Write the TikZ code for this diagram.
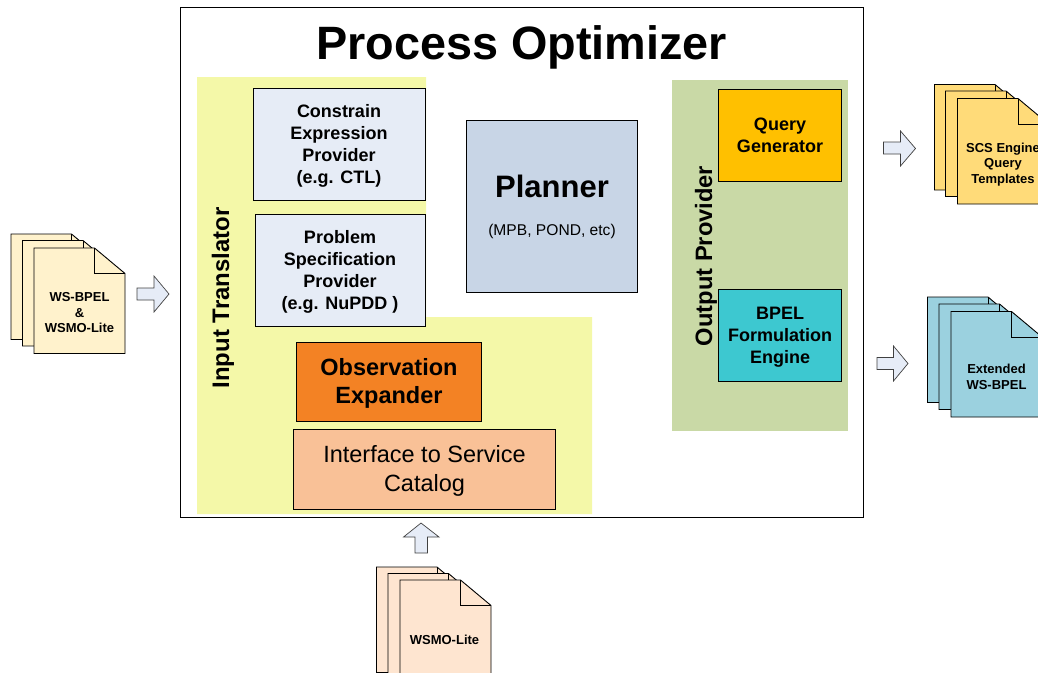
\documentclass[tikz,border=0pt]{standalone}
\usepackage{fontspec}
\setmainfont{Liberation Sans}
\newcommand{\fsz}[1]{\fontsize{#1}{#1}\selectfont}
\tikzset{
  frame/.style={draw=black,line width=0.7pt,fill=white},
  box/.style={draw=black,line width=0.7pt,align=center,font=\bfseries,anchor=center,inner sep=0pt},
  doc/.style={draw=black,line width=0.9pt},
  blockarrow/.style={draw=black!75,line width=0.7pt,fill=arrowfill,line join=miter},
  lbl/.style={align=center,inner sep=0pt},
}
\definecolor{arrowfill}{HTML}{E6ECF7}
\definecolor{yellowbg}{HTML}{F4F8A8}
\definecolor{greenbg}{HTML}{C9D9A6}
\definecolor{lightblue}{HTML}{E6ECF6}
\definecolor{planner}{HTML}{C8D5E6}
\definecolor{qgen}{HTML}{FFC000}
\definecolor{bpel}{HTML}{3DC8D0}
\definecolor{obs}{HTML}{F38224}
\definecolor{iface}{HTML}{F9C197}
\definecolor{docA}{HTML}{FFF2CC}
\definecolor{docB}{HTML}{FFDB79}
\definecolor{docC}{HTML}{9BD1DF}
\definecolor{docD}{HTML}{FEE5D0}
% \sheet{x}{y}{colour}
\newcommand{\sheet}[3]{%
  \draw[doc,fill=#3] (#1,#2) -- ++(60.5,0) -- ++(30.5,25.5) -- ++(0,80) -- ++(-91,0) -- cycle;
  \draw[doc] (#1+60.5,#2) -- ++(0,25.5) -- ++(30.5,0);
}
\newcommand{\stack}[7]{%
  \sheet{#1}{#2}{#7}\sheet{#3}{#4}{#7}\sheet{#5}{#6}{#7}%
}
\begin{document}
\begin{tikzpicture}[x=1pt,y=-1pt]
\useasboundingbox (0,0) rectangle (1038,672);
\clip (0,0) rectangle (1038,672);
\draw[frame] (180,7) rectangle (863,517);
\node[lbl,font=\fsz{46.8}\bfseries] (title) at (521.5,47) {Process Optimizer};
% yellow background
\fill[yellowbg] (197,77) -- (426,77) -- (426,317) -- (592,317) -- (592,514) -- (197,514) -- cycle;
\fill[greenbg] (672,80) rectangle (848,431);
\node[lbl,font=\fsz{23.9}\bfseries,rotate=90] (inputtr) at (223,298) {Input Translator};
\node[lbl,font=\fsz{23.7}\bfseries,rotate=90] (outputpr) at (706,256) {Output Provider};
\node[box,fill=lightblue,minimum width=172pt,minimum height=112pt] (constrain) at (339,144) {};
\node[lbl,font=\fsz{18}\bfseries] (constraintxt) at (339,146) {Constrain\\[4pt]Expression\\[4pt]Provider\\[4pt](e.g. CTL)};
\node[box,fill=lightblue,minimum width=170pt,minimum height=112pt] (problem) at (340,270.5) {};
\node[lbl,font=\fsz{18}\bfseries] (problemtxt) at (340,272) {Problem\\[4pt]Specification\\[4pt]Provider\\[4pt](e.g. NuPDD )};
\node[box,fill=planner,minimum width=171pt,minimum height=172pt] (plannerbox) at (552,206.5) {};
\node[lbl,font=\fsz{31}\bfseries] (plannertxt) at (552,186) {Planner};
\node[lbl,font=\fsz{15.6}] (plannersub) at (552,231) {(MPB, POND, etc)};
\node[box,fill=qgen,minimum width=123pt,minimum height=92pt,font=\fsz{18}\bfseries] (query) at (780,135.5) {Query\\[4pt]Generator};
\node[box,fill=bpel,minimum width=123pt,minimum height=92pt] (bpelbox) at (780,335.5) {};
\node[lbl,font=\fsz{18}\bfseries] (bpeltxt) at (780,337.5) {BPEL\\[4pt]Formulation\\[4pt]Engine};
\node[box,fill=obs,minimum width=185pt,minimum height=79pt] (observ) at (389,381.5) {};
\node[lbl,font=\fsz{23.5}\bfseries] (observtxt) at (389,383.5) {Observation\\[4.5pt]Expander};
\node[box,fill=iface,minimum width=262pt,minimum height=80pt] (interface) at (424.5,469.5) {};
\node[lbl,font=\fsz{23.5}] (interfacetxt) at (424.5,471) {Interface to Service\\[5.5pt]Catalog};
% block arrows
\draw[blockarrow] (137,288) -- (154,288) -- (154,276) -- (169,294) -- (154,312) -- (154,300) -- (137,300) -- cycle;
\draw[blockarrow] (883.5,142) -- (900.5,142) -- (900.5,131) -- (915.5,148.5) -- (900.5,166) -- (900.5,154) -- (883.5,154) -- cycle;
\draw[blockarrow] (877,357.5) -- (893.5,357.5) -- (893.5,346) -- (908,363.5) -- (893.5,381) -- (893.5,369.5) -- (877,369.5) -- cycle;
\draw[blockarrow] (415,553) -- (415,537) -- (403.5,537) -- (421,523) -- (439,537) -- (427.5,537) -- (427.5,553) -- cycle;
% documents
\stack{11}{234}{22.5}{240.5}{34}{248}{docA}
\node[lbl,font=\fsz{13}\bfseries] (d1) at (79.5,313) {WS-BPEL\\[2.5pt]\&\\[2.5pt]WSMO-Lite};
\stack{934.5}{84.5}{945.5}{91}{957.5}{98.5}{docB}
\node[lbl,font=\fsz{13}\bfseries] (d2) at (1003,164.5) {SCS Engine\\[2.5pt]Query\\[2.5pt]Templates};
\stack{927.5}{297}{939}{304}{951}{311.5}{docC}
\node[lbl,font=\fsz{13}\bfseries] (d3) at (996.5,377) {Extended\\[2.5pt]WS-BPEL};
\stack{376.5}{567}{388}{573.5}{400}{580}{docD}
\node[lbl,font=\fsz{13}\bfseries] (d4) at (444.5,639.5) {WSMO-Lite};
\end{tikzpicture}
\end{document}
